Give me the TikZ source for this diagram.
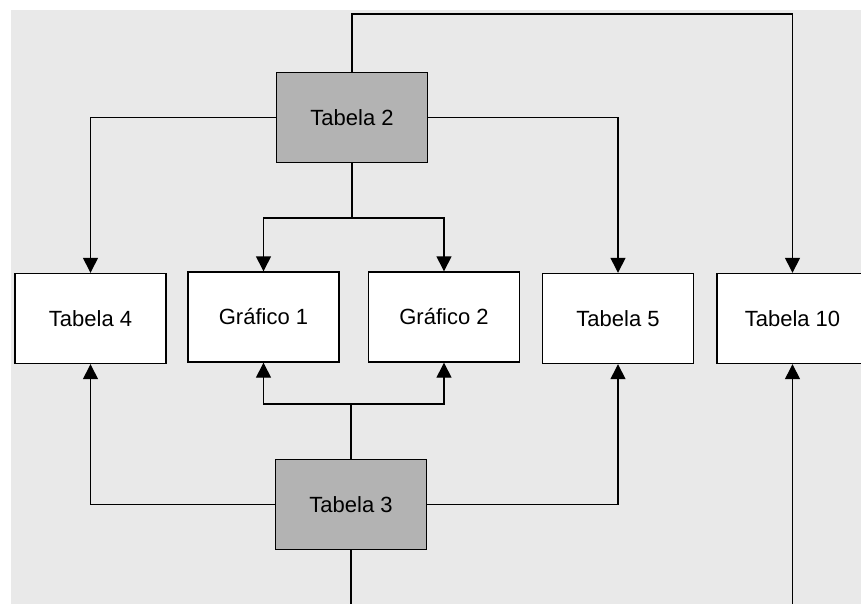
\documentclass[tikz,border=0pt]{standalone}
\usepackage{fontspec}
\setmainfont{Liberation Sans}
\usetikzlibrary{arrows.meta}
\definecolor{canvas}{HTML}{E9E9E9}
\definecolor{keybox}{HTML}{B3B3B3}
\begin{document}
\begin{tikzpicture}[x=1pt,y=1pt,
  box/.style={draw=black, line width=1.4pt, fill=white, minimum width=151pt,
    minimum height=90pt, inner sep=0pt, font=\fontsize{22}{26}\selectfont},
  keyed/.style={box, fill=keybox},
  link/.style={draw=black, line width=1.4pt},
  arr/.style={link, -{Triangle[length=15pt,width=15pt]}}]
  \useasboundingbox (0,0) rectangle (861,-604);
  \fill[canvas] (11,-10) rectangle (861,-604);

  % source tables
  \node[keyed] (t2) at (352,-117.5) {Tabela 2};
  \node[keyed] (t3) at (351,-504.5) {Tabela 3};

  % derived tables and charts
  \node[box] (t4)  at (90.5,-318.5)  {Tabela 4};
  \node[box] (g1)  at (263.5,-317)   {Gráfico 1};
  \node[box] (g2)  at (444,-317)     {Gráfico 2};
  \node[box] (t5)  at (618,-318.5)   {Tabela 5};
  \node[box] (t10) at (792.5,-318.5) {Tabela 10};

  % routing helpers
  \coordinate (ytop) at (0,-14);
  \coordinate (ysplit) at (0,-218);
  \coordinate (yjoin) at (0,-404);
  \coordinate (b3) at (351,-604);
  \coordinate (b10) at (792.5,-604);

  % Tabela 2 outputs
  \draw[arr] (t2.north) -- (t2.north |- ytop) -| (t10.north);
  \draw[arr] (t2.west) -| (t4.north);
  \draw[arr] (t2.east) -| (t5.north);
  \draw[link] (t2.south) -- (t2.south |- ysplit);
  \draw[arr] (t2.south |- ysplit) -| (g1.north);
  \draw[arr] (t2.south |- ysplit) -| (g2.north);

  % Tabela 3 outputs
  \draw[arr] (t3.west) -| (t4.south);
  \draw[arr] (t3.east) -| (t5.south);
  \draw[link] (t3.north) -- (t3.north |- yjoin);
  \draw[arr] (t3.north |- yjoin) -| (g1.south);
  \draw[arr] (t3.north |- yjoin) -| (g2.south);
  \draw[link] (t3.south) -- (b3);

  % incoming feed to Tabela 10
  \draw[arr] (b10) -- (t10.south);
\end{tikzpicture}
\end{document}
